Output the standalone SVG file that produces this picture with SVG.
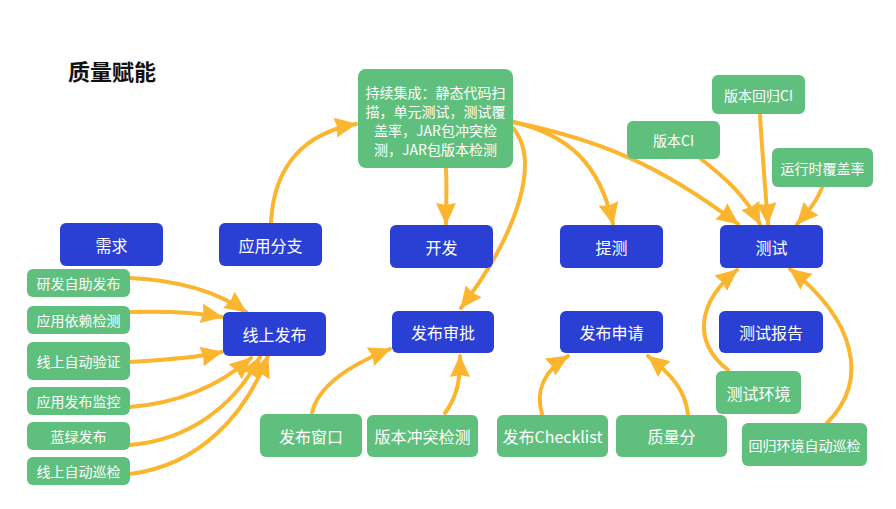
<svg xmlns="http://www.w3.org/2000/svg" width="896" height="509" viewBox="0 0 896 509">
<defs>
<style>
.b rect{fill:#2a3fd3;}
.g rect{fill:#5fc07e;}
text{font-family:"Noto Sans CJK SC","Noto Sans",sans-serif;fill:#fff;text-anchor:middle;dominant-baseline:central;}
.b text{font-size:16px;}
.g text{font-size:14px;}
.g.l text{font-size:16px;}
.c path{fill:none;stroke:#fbb52e;stroke-width:4;stroke-linecap:round;marker-end:url(#ah);}
.title{fill:#111;font-size:22px;font-weight:bold;text-anchor:start;}
</style>
<marker id="ah" markerUnits="userSpaceOnUse" markerWidth="24" markerHeight="24" viewBox="0 0 24 24" refX="21" refY="12" orient="auto">
<path d="M0,2 L22,12 L0,22 L2,12 z" fill="#fbb52e"/>
</marker>
</defs>
<rect width="896" height="509" fill="#fff"/>
<text class="title" x="68" y="70">质量赋能</text>

<g class="c">
<path d="M271,222 C274,165 305,133 356,124"/>
<path d="M446,168 C447,190 446,205 446,224"/>
<path d="M513,122 C570,135 600,165 613,224"/>
<path d="M513,122 C600,140 660,165 738,224"/>
<path d="M513,128 C540,160 520,230 461,308"/>
<path d="M700,158 C725,178 745,195 760,224"/>
<path d="M760,115 C762,150 765,185 768,224"/>
<path d="M822,187 C818,200 808,212 797,224"/>
<path d="M728,370 C690,340 700,300 737,270"/>
<path d="M827,423 C870,380 855,320 790,269"/>
<path d="M688,414 C685,390 672,375 648,356"/>
<path d="M542,414 C535,390 545,370 568,356"/>
<path d="M445,413 C458,395 460,380 460,356"/>
<path d="M312,413 C318,385 350,365 390,349"/>
<path d="M130,278 C175,280 215,290 246,312"/>
<path d="M130,312 C165,311 200,313 222,317"/>
<path d="M130,362 C165,360 195,358 222,352"/>
<path d="M130,407 C180,403 220,385 251,358"/>
<path d="M130,445 C190,440 235,405 260,357"/>
<path d="M130,474 C200,465 245,415 268,356"/>
</g>

<g id="n-xuqiu" class="b"><rect x="60" y="223" width="103" height="43" rx="6"/><text x="111.5" y="244.5">需求</text></g>
<g id="n-fenzhi" class="b"><rect x="219" y="223" width="103" height="43" rx="6"/><text x="270.5" y="244.5">应用分支</text></g>
<g id="n-kaifa" class="b"><rect x="390" y="225" width="103" height="43" rx="6"/><text x="441.5" y="246.5">开发</text></g>
<g id="n-tice" class="b"><rect x="560" y="225" width="103" height="43" rx="6"/><text x="611.5" y="246.5">提测</text></g>
<g id="n-ceshi" class="b"><rect x="720" y="225" width="103" height="43" rx="6"/><text x="771.5" y="246.5">测试</text></g>
<g id="n-xsfb" class="b"><rect x="223" y="312" width="103" height="44" rx="6"/><text x="274.5" y="334">线上发布</text></g>
<g id="n-fbsp" class="b"><rect x="392" y="311" width="102" height="42" rx="6"/><text x="443" y="332">发布审批</text></g>
<g id="n-fbsq" class="b"><rect x="560" y="311" width="103" height="42" rx="6"/><text x="611.5" y="332">发布申请</text></g>
<g id="n-csbg" class="b"><rect x="719" y="311" width="104" height="42" rx="6"/><text x="771" y="332">测试报告</text></g>

<g id="n-ci" class="g"><rect x="358" y="69" width="155" height="99" rx="8"/>
<text x="435.5" y="92">持续集成：静态代码扫</text>
<text x="435.5" y="111">描，单元测试，测试覆</text>
<text x="435.5" y="130">盖率，JAR包冲突检</text>
<text x="435.5" y="149">测，JAR包版本检测</text></g>
<g id="n-bbhgci" class="g"><rect x="712" y="75" width="93" height="39" rx="6"/><text x="758.5" y="94.5">版本回归CI</text></g>
<g id="n-bbci" class="g"><rect x="627" y="121" width="93" height="38" rx="6"/><text x="673.5" y="140">版本CI</text></g>
<g id="n-yxsfgl" class="g"><rect x="772" y="148" width="101" height="39" rx="6"/><text x="822.5" y="167.5">运行时覆盖率</text></g>
<g id="n-cshj" class="g l"><rect x="716" y="371" width="85" height="43" rx="6"/><text x="758.5" y="392.5">测试环境</text></g>
<g id="n-hghj" class="g"><rect x="742" y="423" width="125" height="43" rx="6"/><text x="804.5" y="444.5">回归环境自动巡检</text></g>
<g id="n-zlf" class="g l"><rect x="616" y="415" width="111" height="42" rx="6"/><text x="671.5" y="436">质量分</text></g>
<g id="n-checklist" class="g l"><rect x="497" y="415" width="111" height="42" rx="6"/><text x="552.5" y="436">发布Checklist</text></g>
<g id="n-bbctjc" class="g l"><rect x="367" y="415" width="111" height="42" rx="6"/><text x="422.5" y="436">版本冲突检测</text></g>
<g id="n-fbck" class="g l"><rect x="260" y="414" width="102" height="43" rx="6"/><text x="311" y="435.5">发布窗口</text></g>
<g id="n-yfzzfb" class="g"><rect x="27" y="269" width="103" height="28" rx="6"/><text x="78.5" y="283">研发自助发布</text></g>
<g id="n-yyyljc" class="g"><rect x="27" y="306" width="103" height="28" rx="6"/><text x="78.5" y="320">应用依赖检测</text></g>
<g id="n-xszdyz" class="g"><rect x="27" y="342" width="103" height="38" rx="6"/><text x="78.5" y="361">线上自动验证</text></g>
<g id="n-yyfbjk" class="g"><rect x="27" y="387" width="103" height="28" rx="6"/><text x="78.5" y="401">应用发布监控</text></g>
<g id="n-lvfb" class="g"><rect x="27" y="422" width="103" height="28" rx="6"/><text x="78.5" y="436">蓝绿发布</text></g>
<g id="n-xszdxj" class="g"><rect x="27" y="457" width="103" height="28" rx="6"/><text x="78.5" y="471">线上自动巡检</text></g>
</svg>
